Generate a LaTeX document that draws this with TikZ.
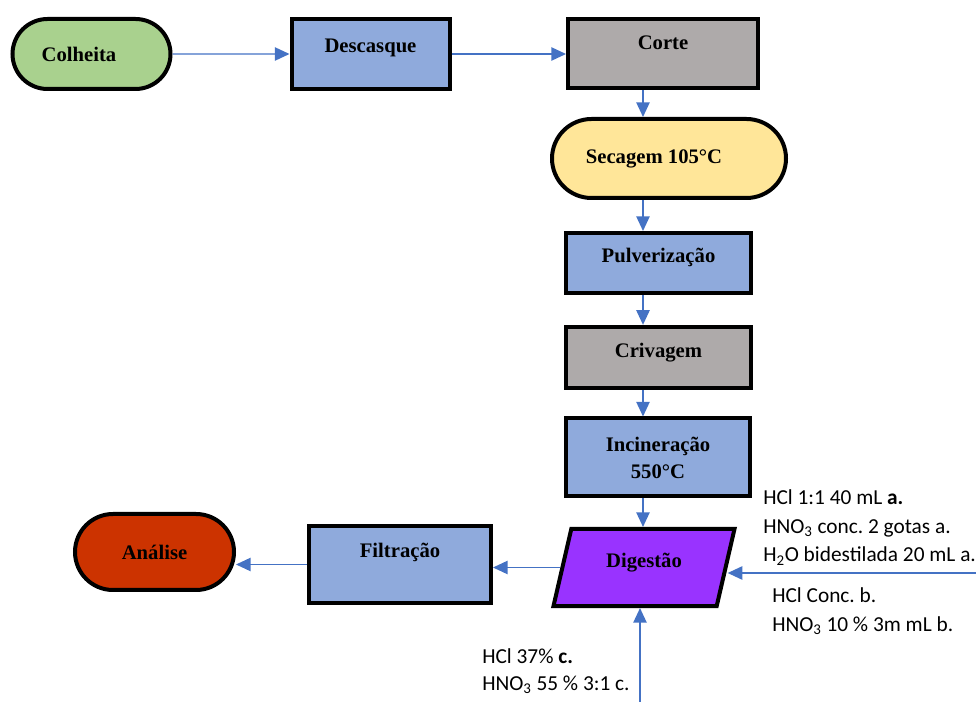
\documentclass[tikz,border=0pt]{standalone}
\usepackage{fontspec}
\setmainfont{Liberation Serif}
\newfontfamily\notefont{Carlito}
\usetikzlibrary{shapes.misc,shapes.geometric,arrows.meta}
\definecolor{leafgreen}{HTML}{A9D18E}
\definecolor{peelblue}{HTML}{8FAADC}
\definecolor{ashgrey}{HTML}{AEAAAA}
\definecolor{drysand}{HTML}{FFE699}
\definecolor{redclay}{HTML}{CC3300}
\definecolor{acidpurple}{HTML}{9933FF}
\definecolor{flowblue}{HTML}{4472C4}
\frenchspacing

\begin{document}
\begin{tikzpicture}[x=0.75pt,y=-0.75pt,
  stage/.style={draw=black,line width=3pt,inner sep=0pt,
    font=\fontsize{15.5}{20.25}\selectfont\bfseries},
  boxed/.style={stage,rectangle},
  term/.style={stage,rounded rectangle},
  lift/.style={text height=0pt,text depth=#1},
  arr/.style={flowblue,line width=1.1pt,-{Triangle[length=11pt,width=10pt]}},
  note/.style={inner sep=0pt,anchor=base west,
    font=\notefont\fontsize{16}{19}\selectfont}]
  \useasboundingbox (0,0) rectangle (976,702);

  \node[term,fill=leafgreen,minimum width=118.5pt,minimum height=52.5pt]
    (colh) at (91.5,54) {\hspace*{-18.75pt}Colheita};
  \node[boxed,fill=peelblue,minimum width=118.5pt,minimum height=52.5pt,lift=2.25pt]
    (desc) at (370.5,54) {Descasque};
  \node[boxed,fill=ashgrey,minimum width=142.5pt,minimum height=51.75pt,lift=6pt]
    (corte) at (663,54) {Corte};
  \node[term,fill=drysand,minimum width=175.5pt,minimum height=59.25pt]
    (sec) at (669,158.5) {\hspace*{-22.5pt}Secagem 105°C};
  \node[boxed,fill=peelblue,minimum width=138.75pt,minimum height=45pt,lift=0pt]
    (pulv) at (658.5,263) {Pulverização};
  \node[boxed,fill=ashgrey,minimum width=138.75pt,minimum height=46pt,lift=0pt]
    (criv) at (658.5,357.5) {Crivagem};
  \node[boxed,fill=peelblue,minimum width=138pt,minimum height=58.5pt,align=center]
    (inc) at (658,457.5) {Incineração\\550°C};
  \node[stage,trapezium,trapezium left angle=77,trapezium right angle=103,
    trapezium stretches body=true,fill=acidpurple,minimum width=135.75pt,
    lift=0pt,inner ysep=28.9pt]
    (dig) at (644,567.5) {Digestão};
  \node[boxed,fill=peelblue,minimum width=136.5pt,minimum height=57.75pt,lift=11.25pt]
    (filt) at (400,564.5) {Filtração};
  \node[term,fill=redclay,minimum width=119.25pt,minimum height=57pt]
    (anal) at (154.5,552) {Análise};

  % free ends of the arrows
  \coordinate (spine) at (643,0);
  \coordinate (rin) at (976,573);
  \coordinate (bin) at (640,702);

  \draw[arr] (colh) -- (desc);
  \draw[arr] (desc) -- (corte);
  \foreach \a/\b in {corte/sec,sec/pulv,pulv/criv,criv/inc,inc/dig}
    \draw[arr] (\a.south -| spine) -- (\b.north -| spine);
  \draw[arr] (dig.west) -- (dig.west -| filt.east);
  \draw[arr] (filt.west) -- (filt.west -| anal.east);
  \draw[arr] (rin) -- (rin -| dig.east);
  \draw[arr] (bin) -- (bin |- dig.south);

  \foreach \t [count=\i from 0] in {HCl 1:1 40 mL \textbf{a.},
      HNO\textsubscript{3} conc. 2 gotas a.,H\textsubscript{2}O bidestilada 20 mL a.}
    \node[note] (rea\i) at (763,505+28.5*\i) {\t};
  \foreach \t [count=\i from 0] in {HCl Conc. b.,HNO\textsubscript{3} 10 \% 3m mL b.}
    \node[note] (reb\i) at (772,603+28.5*\i) {\t};
  \foreach \t [count=\i from 0] in {HCl 37\% \textbf{c.},HNO\textsubscript{3} 55 \% 3:1 c.}
    \node[note] (rec\i) at (482,663+27*\i) {\t};
\end{tikzpicture}
\end{document}
